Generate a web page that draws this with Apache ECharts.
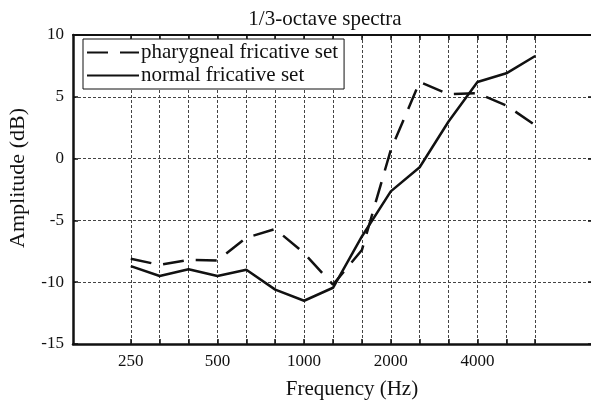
<!DOCTYPE html>
<html>
<head>
<meta charset="utf-8">
<script src="https://cdn.jsdelivr.net/npm/echarts@6/dist/echarts.min.js"></script>
<style>
  html, body { margin: 0; padding: 0; background: #fff; }
  #chart { width: 591px; height: 401px; }
</style>
</head>
<body>
<div id="chart"></div>
<script>
// 1/3-octave band centre frequencies (Hz)
const bands = [250, 315, 400, 500, 630, 800, 1000, 1250, 1600, 2000, 2500, 3150, 4000, 5000, 6300];
// Band levels in dB
const pharyngeal = [-8.1, -8.6, -8.2, -8.25, -6.4, -5.7, -7.65, -10.2, -7.4, 0.7, 6.2, 5.2, 5.3, 4.3, 2.7];
const normal = [-8.7, -9.5, -8.95, -9.5, -9.0, -10.6, -11.5, -10.45, -6.3, -2.65, -0.7, 3.0, 6.2, 6.9, 8.3];
// Labelled frequencies on the x axis
const tickLabels = [250, 500, 1000, 2000, 4000];

const serif = '"Liberation Serif", "DejaVu Serif", serif';
const ink = '#111';

// the x axis runs in band-index units (one unit per third of an octave)
const bandIdx = bands.map((f, i) => i);
const labelIdx = tickLabels.map(f => bands.indexOf(f));
const toPairs = vals => vals.map((v, i) => [bandIdx[i], v]);

const chart = echarts.init(document.getElementById('chart'), null, { renderer: 'canvas' });

const gridLine = { show: true, lineStyle: { color: '#444', width: 1, type: [3, 2] } };

chart.setOption({
  animation: false,
  backgroundColor: '#fff',
  title: {
    text: '1/3-octave spectra',
    left: 320,
    top: 4,
    textAlign: 'center',
    textStyle: { fontFamily: serif, fontSize: 21, fontWeight: 'normal', color: ink }
  },
  grid: { left: 73, top: 35, width: 520, height: 309, containLabel: false, outerBoundsMode: 'none' },
  legend: {
    orient: 'vertical',
    left: 83,
    top: 39,
    padding: [3, 6, 3, 3],
    itemGap: 2,
    itemWidth: 52,
    itemHeight: 20,
    backgroundColor: '#fff',
    borderColor: ink,
    borderWidth: 1,
    borderRadius: 0,
    itemStyle: { opacity: 0 },
    textStyle: { fontFamily: serif, fontSize: 21, color: ink, padding: [0, 0, 0, -3] },
    data: ['pharygneal fricative set', 'normal fricative set'],
    z: 10
  },
  xAxis: [
    {
      type: 'value',
      min: -2,
      max: 16,
      position: 'bottom',
      name: 'Frequency (Hz)',
      nameLocation: 'middle',
      nameGap: 35,
      nameTextStyle: { fontFamily: serif, fontSize: 21, color: ink, padding: [0, 0, 0, 38] },
      axisLine: { show: true, onZero: false, lineStyle: { color: ink, width: 2.5 } },
      axisTick: { show: true, inside: true, length: 5, customValues: bandIdx, lineStyle: { color: ink, width: 1.5 } },
      axisLabel: {
        show: true,
        customValues: labelIdx,
        margin: 9,
        fontFamily: serif, fontSize: 17, color: ink,
        formatter: v => String(bands[Math.round(v)])
      },
      splitLine: gridLine
    },
    {
      type: 'value',
      min: -2,
      max: 16,
      position: 'top',
      axisLine: { show: true, onZero: false, lineStyle: { color: ink, width: 2 } },
      axisTick: { show: true, inside: true, length: 5, customValues: bandIdx, lineStyle: { color: ink, width: 1.5 } },
      axisLabel: { show: false },
      splitLine: { show: false }
    }
  ],
  yAxis: [
    {
      type: 'value',
      min: -15,
      max: 10,
      interval: 5,
      position: 'left',
      name: 'Amplitude (dB)',
      nameLocation: 'middle',
      nameRotate: 90,
      nameGap: 44,
      nameTextStyle: { fontFamily: serif, fontSize: 22, color: ink, padding: [0, 0, 0, 23] },
      axisLine: { show: true, onZero: false, lineStyle: { color: ink, width: 2.5 } },
      axisTick: { show: true, inside: true, length: 5, lineStyle: { color: ink, width: 1.5 } },
      axisLabel: { margin: 9, fontFamily: serif, fontSize: 17, color: ink },
      splitLine: gridLine
    },
    {
      type: 'value',
      min: -15,
      max: 10,
      interval: 5,
      position: 'right',
      axisLine: { show: true, onZero: false, lineStyle: { color: ink, width: 2.5 } },
      axisTick: { show: true, inside: true, length: 5, lineStyle: { color: ink, width: 1.5 } },
      axisLabel: { show: false },
      splitLine: { show: false }
    }
  ],
  series: [
    {
      name: 'pharygneal fricative set',
      type: 'line',
      data: toPairs(pharyngeal),
      showSymbol: false,
      symbol: 'none',
      lineStyle: { color: ink, width: 2.5, type: [21, 12] },
      itemStyle: { color: ink },
      z: 5
    },
    {
      name: 'normal fricative set',
      type: 'line',
      data: toPairs(normal),
      showSymbol: false,
      symbol: 'none',
      lineStyle: { color: ink, width: 2.5, type: 'solid' },
      itemStyle: { color: ink },
      z: 5
    }
  ]
});
</script>
</body>
</html>
